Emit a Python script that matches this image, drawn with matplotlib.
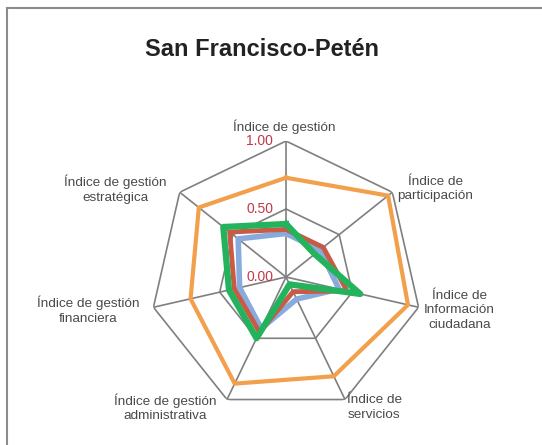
import numpy as np
import matplotlib.pyplot as plt
from matplotlib.lines import Line2D

plt.rcParams['font.family'] = ['Liberation Sans', 'DejaVu Sans']

categories = ['Índice de gestión', 'Índice de\nparticipación', 'Índice de\nInformación\nciudadana',
              'Índice de\nservicios', 'Índice de gestión\nadministrativa', 'Índice de gestión\nfinanciera',
              'Índice de gestión\nestratégica']
serie_naranja = [0.73, 0.96, 0.92, 0.81, 0.87, 0.72, 0.82]
serie_azul = [0.32, 0.32, 0.40, 0.18, 0.42, 0.35, 0.45]
serie_roja = [0.35, 0.35, 0.46, 0.12, 0.45, 0.39, 0.53]
serie_verde = [0.39, 0.27, 0.56, 0.06, 0.50, 0.43, 0.59]
ticks = [0.0, 0.5, 1.0]
tick_labels = ['0.00', '0.50', '1.00']

n = len(categories)
ang = np.linspace(0, 2 * np.pi, n, endpoint=False)
ang_c = np.append(ang, ang[0])

fig = plt.figure(figsize=(5.42, 4.45), dpi=100)
# marco del grafico
fig.add_artist(Line2D([7 / 542, 7 / 542], [0, 1 - 8 / 445], color='#8c8c8c', lw=1.5))
fig.add_artist(Line2D([7 / 542, 1], [1 - 8 / 445, 1 - 8 / 445], color='#8c8c8c', lw=1.5))

ax = fig.add_axes([0.2768, 0.0719, 0.5018, 0.6112], projection='polar')
ax.set_theta_offset(np.pi / 2)
ax.set_theta_direction(-1)
ax.set_ylim(0, 1)
ax.grid(False)
ax.spines['polar'].set_visible(False)
ax.set_xticks([])
ax.set_yticks([])
ax.patch.set_alpha(0)

grid_c = '#7f7f7f'
for t in ticks[1:]:
    ax.plot(ang_c, [t] * (n + 1), color=grid_c, lw=1.2, zorder=1)
for a in ang:
    ax.plot([a, a], [0, 1], color=grid_c, lw=1.2, zorder=1)

ax.plot(ang_c, serie_naranja + serie_naranja[:1], color='#f2a04c', lw=3, zorder=3)
ax.plot(ang_c, serie_azul + serie_azul[:1], color='#86abdc', lw=4, zorder=3)
ax.plot(ang_c, serie_roja + serie_roja[:1], color='#c95a45', lw=3.5, zorder=4)
ax.plot(ang_c, serie_verde + serie_verde[:1], color='#22b35c', lw=4.5, zorder=5)

for t, lab in zip(ticks, tick_labels):
    ax.annotate(lab, xy=(0, t), xytext=(-13, 0), textcoords='offset pixels',
                ha='right', va='center', color='#c0394b', fontsize=10)

# desplazamiento de cada etiqueta respecto del vertice exterior (px)
offsets = [(-2, 14), (43, 3), (41, -3), (29, -8), (-62, -8), (-65, -3), (-64, 3)]
for a, lab, off in zip(ang, categories, offsets):
    ax.annotate(lab, xy=(a, 1), xytext=off, textcoords='offset pixels', ha='center',
                va='center', color='#4a4a4a', fontsize=9.7, linespacing=1.25)

fig.text(0.483, 1 - 50 / 445, 'San Francisco-Petén', ha='center', va='center',
         fontsize=17, fontweight='bold', color='#222222')

fig.savefig('out.png', dpi=100)
